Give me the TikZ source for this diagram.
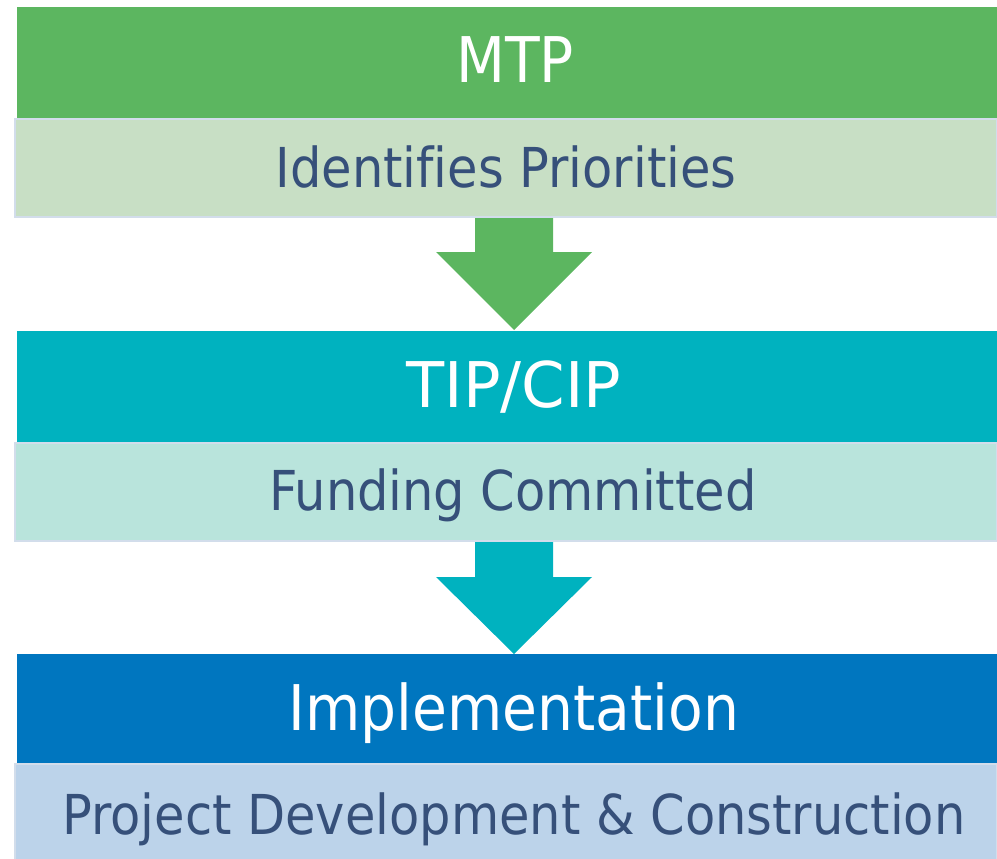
\documentclass[tikz,border=0pt]{standalone}
\usepackage{fontspec}
\setmainfont[Ligatures=NoCommon]{DejaVu Sans Condensed}
\definecolor{cgreen}{RGB}{92,182,96}
\definecolor{clgreen}{RGB}{200,223,197}
\definecolor{cteal}{RGB}{0,178,191}
\definecolor{clteal}{RGB}{185,228,220}
\definecolor{cblue}{RGB}{0,118,191}
\definecolor{clblue}{RGB}{188,211,234}
\definecolor{ctext}{RGB}{54,80,122}
\definecolor{cborder}{RGB}{210,221,235}
\tikzset{
  hdrbox/.style={rectangle, inner sep=0pt, outer sep=0pt, draw=none, minimum width=980pt, minimum height=111pt},
  subbox/.style={rectangle, inner sep=0pt, outer sep=0pt, draw=cborder, line width=2pt, minimum width=982pt, minimum height=98pt},
  titletext/.style={anchor=base, inner sep=0pt, text=white, font=\fontsize{63}{70}\selectfont},
  subtext/.style={anchor=base, inner sep=0pt, text=ctext, font=\fontsize{55}{62}\selectfont},
}
\begin{document}
\begin{tikzpicture}[x=1pt,y=-1pt]
\useasboundingbox (0,0) rectangle (997,859);
% stage 1
\node[hdrbox, fill=cgreen] (mtp) at (507,62.5) {};
\node[subbox, fill=clgreen] (pri) at (506,168) {};
\node[titletext] (mtpt) at (515,83) {MTP};
\node[subtext] (prit) at (506,187) {Identifies Priorities};
% stage 2
\node[hdrbox, fill=cteal] (tip) at (507,386) {};
\node[subbox, fill=clteal] (fund) at (506,491.5) {};
\node[titletext] (tipt) at (514,407) {\scalebox{1.1}[1]{TIP/CIP}};
\node[subtext] (fundt) at (513,510) {Funding Committed};
% stage 3
\node[hdrbox, fill=cblue] (impl) at (507,709.5) {};
\node[subbox, fill=clblue] (proj) at (506,813) {};
\node[titletext] (implt) at (514,730) {Implementation};
\node[subtext] (projt) at (514,834) {Project Development \& Construction};
% arrows
\fill[cgreen] (475,218) -- (475,252) -- (436,252) -- (514,330) -- (592,252) -- (553,252) -- (553,218) -- cycle;
\fill[cteal] (475,542) -- (475,577) -- (436,577) -- (514,654) -- (592,577) -- (553,577) -- (553,542) -- cycle;
\end{tikzpicture}
\end{document}
